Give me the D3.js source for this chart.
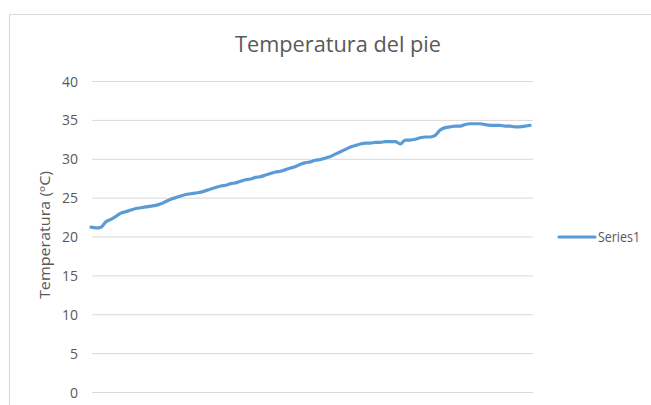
<!DOCTYPE html>
<html>
<head>
<meta charset="utf-8">
<script src="https://cdn.jsdelivr.net/npm/d3@7"></script>
<style>
  html, body { margin: 0; padding: 0; background: #fff; }
  svg { display: block; }
</style>
</head>
<body>
<svg id="chart" width="651" height="405"></svg>
<script>
// Foot temperature readings (ºC), one per sample
const seriesName = "Series1";
const temperature = [
  21.2, 21.1, 21.2, 21.9, 22.2, 22.6, 23.0, 23.2, 23.4, 23.6,
  23.7, 23.8, 23.9, 24.0, 24.2, 24.5, 24.8, 25.0, 25.2, 25.4,
  25.5, 25.6, 25.7, 25.9, 26.1, 26.3, 26.5, 26.6, 26.8, 26.9,
  27.1, 27.3, 27.4, 27.6, 27.7, 27.9, 28.1, 28.3, 28.4, 28.6,
  28.8, 29.0, 29.3, 29.5, 29.6, 29.8, 29.9, 30.1, 30.3, 30.6,
  30.9, 31.2, 31.5, 31.7, 31.9, 32.0, 32.0, 32.1, 32.1, 32.2,
  32.2, 32.2, 31.9, 32.4, 32.4, 32.5, 32.7, 32.8, 32.8, 33.0,
  33.7, 34.0, 34.1, 34.2, 34.2, 34.4, 34.5, 34.5, 34.5, 34.4,
  34.3, 34.3, 34.3, 34.2, 34.2, 34.1, 34.1, 34.2, 34.3
];
const yTicks = [0, 5, 10, 15, 20, 25, 30, 35, 40];
const titleText = "Temperatura del pie";
const yTitleText = "Temperatura (ºC)";

const svg = d3.select("#chart");
const textColor = "#595959";
const gridColor = "#d9d9d9";
const lineColor = "#5b9bd5";
const font = "'Open Sans', 'Noto Sans', sans-serif";

// chart frame
svg.append("rect")
  .attr("x", 9.5).attr("y", 14.5)
  .attr("width", 700).attr("height", 500)
  .attr("fill", "#fff").attr("stroke", gridColor).attr("stroke-width", 1);

const plot = { left: 92, right: 533, top: 81, bottom: 392 };

const x = d3.scaleLinear()
  .domain([0, temperature.length - 1])
  .range([91, 530]);
const y = d3.scaleLinear()
  .domain([0, 40])
  .range([plot.bottom, plot.top]);

// horizontal gridlines + tick labels via axis
const yAxis = d3.axisLeft(y)
  .tickValues(yTicks)
  .tickSize(-(plot.right - plot.left))
  .tickPadding(14)
  .tickFormat(d3.format("d"));

const g = svg.append("g")
  .attr("transform", `translate(${plot.left},0)`)
  .call(yAxis);
g.select(".domain").remove();
g.selectAll(".tick line").attr("stroke", gridColor).attr("stroke-width", 1);
g.selectAll(".tick text")
  .attr("fill", textColor)
  .attr("dy", "0.36em")
  .style("font-family", font)
  .style("font-size", "14px");

// series line
const line = d3.line()
  .x((d, i) => x(i))
  .y(d => y(d))
  .curve(d3.curveMonotoneX);

svg.append("path")
  .datum(temperature)
  .attr("fill", "none")
  .attr("stroke", lineColor)
  .attr("stroke-width", 3.2)
  .attr("stroke-linejoin", "round")
  .attr("stroke-linecap", "round")
  .attr("d", line);

// title
svg.append("text")
  .attr("x", 338).attr("y", 52)
  .attr("text-anchor", "middle")
  .attr("fill", textColor)
  .attr("textLength", 206)
  .attr("lengthAdjust", "spacingAndGlyphs")
  .style("font-family", font)
  .style("font-size", "22px")
  .text(titleText);

// y-axis title
svg.append("text")
  .attr("transform", "translate(50,235) rotate(-90)")
  .attr("text-anchor", "middle")
  .attr("fill", textColor)
  .attr("textLength", 128)
  .attr("lengthAdjust", "spacingAndGlyphs")
  .style("font-family", font)
  .style("font-size", "14.5px")
  .text(yTitleText);

// legend
const legend = svg.append("g").attr("transform", "translate(559,237)");
legend.append("line")
  .attr("x1", 0).attr("x2", 36)
  .attr("stroke", lineColor).attr("stroke-width", 3.2)
  .attr("stroke-linecap", "round");
legend.append("text")
  .attr("x", 39).attr("y", 5)
  .attr("fill", textColor)
  .attr("textLength", 42)
  .attr("lengthAdjust", "spacingAndGlyphs")
  .style("font-family", font)
  .style("font-size", "14px")
  .text(seriesName);
</script>
</body>
</html>
